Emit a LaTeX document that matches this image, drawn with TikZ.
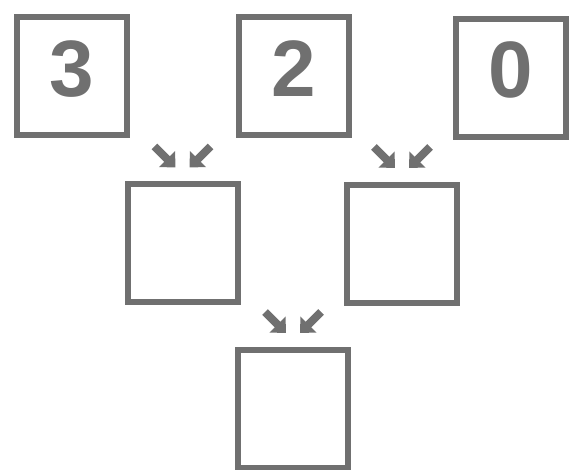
\documentclass[tikz,border=0pt]{standalone}
\usepackage{fontspec}
\setmainfont{Liberation Sans}
\usetikzlibrary{arrows.meta}
\definecolor{boxgray}{RGB}{112,112,112}

\begin{document}
\begin{tikzpicture}[
  x=1pt,y=1pt,
  cell/.style={draw=boxgray,line width=6pt,minimum width=110pt,minimum height=118pt,
    inner sep=0pt,text=boxgray,font=\fontsize{80}{80}\bfseries\selectfont,text depth=16pt},
  ar/.style={-{Triangle[length=12pt,width=22pt]},line width=8pt,draw=boxgray}]

 \useasboundingbox (0,0) rectangle (571,-470);

 % ---- top row ----
 \node[cell] (t1) at (72,-76.5) {3};
 \node[cell] (t2) at (293.5,-76.5) {2};
 \node[cell] (t3) at (510.5,-78) {0};

 % ---- middle row ----
 \node[cell] (m1) at (182.5,-243.5) {};
 \node[cell] (m2) at (402,-244) {};

 % ---- bottom ----
 \node[cell] (b1) at (293,-409) {};

 % ---- small arrows ----
 \foreach \n in {m1,m2,b1}{
   \coordinate (\n-la) at ([shift={(-28,35)}]\n.north);
   \coordinate (\n-lb) at ([shift={(-7,14)}]\n.north);
   \coordinate (\n-ra) at ([shift={(28,35)}]\n.north);
   \coordinate (\n-rb) at ([shift={(7,14)}]\n.north);
   \draw[ar] (\n-la) -- (\n-lb);
   \draw[ar] (\n-ra) -- (\n-rb);
 }
\end{tikzpicture}
\end{document}
